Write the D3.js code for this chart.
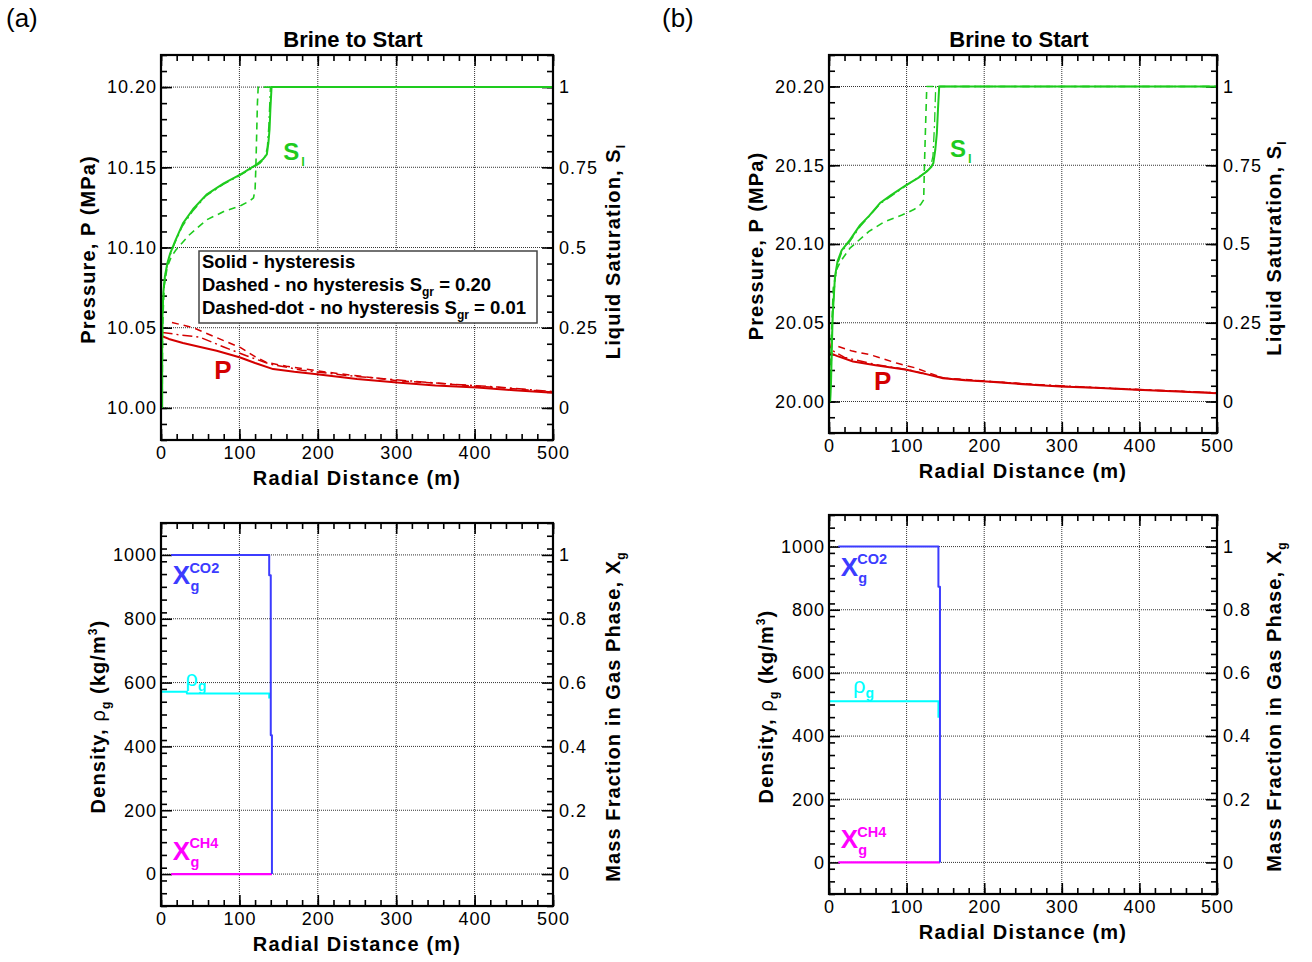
<!DOCTYPE html>
<html><head><meta charset="utf-8">
<script src="https://cdn.jsdelivr.net/npm/d3@7"></script>
<style>
body{margin:0;background:#fff}
text{font-family:"Liberation Sans",Arial,sans-serif;}
.tick text{font-family:"Liberation Sans",Arial,sans-serif;font-size:18px;letter-spacing:1px;fill:#000}
</style>
</head><body>
<svg id="c" width="1312" height="962" xmlns="http://www.w3.org/2000/svg"></svg>
<script>
// ---------------- DATA ----------------
const xTicks = [0, 100, 200, 300, 400, 500];
const pTicksA = [10.00, 10.05, 10.10, 10.15, 10.20];
const pTicksB = [20.00, 20.05, 20.10, 20.15, 20.20];
const slTicks = [0, 0.25, 0.5, 0.75, 1];
const rhoTicks = [0, 200, 400, 600, 800, 1000];
const xgTicks = [0, 0.2, 0.4, 0.6, 0.8, 1];
const legendLines = ["Solid - hysteresis", "Dashed - no hysteresis S", "Dashed-dot - no hysteresis S"];
const legendValues = ["", " = 0.20", " = 0.01"];

// Panel (a) top: liquid saturation [x m, Sl]
const aSlSolid = [[1.5,0],[1.5,0.2],[2,0.3],[3,0.36],[5,0.41],[8,0.45],[11.5,0.48],[18,0.52],[28,0.575],[41,0.62],[58,0.665],[80,0.70],[101,0.727],[115,0.748],[122,0.759],[130,0.775],[135,0.79],[137,0.826],[138.5,0.87],[139.5,0.93],[141,1.0],[500,1.0]];
const aSlDashed = [[1.5,0],[2,0.25],[4,0.38],[8,0.44],[13,0.47],[19,0.492],[36,0.539],[58,0.586],[80,0.612],[102,0.631],[113,0.645],[118,0.655],[120,0.68],[121,0.75],[122,0.85],[123,0.95],[124,1.0],[500,1.0]];
const aSlDashDot = [[1.5,0],[2,0.28],[3.5,0.37],[6,0.425],[10,0.465],[17,0.51],[27,0.565],[40,0.612],[57,0.66],[80,0.697],[101,0.725],[117,0.748],[126,0.762],[132,0.778],[135.5,0.81],[137.5,0.88],[139.5,1.0],[500,1.0]];
// Panel (a) top: pressure [x m, P MPa]
const aPSolid = [[0,10.045],[10,10.043],[28,10.0405],[50,10.038],[71,10.0356],[90,10.033],[101,10.0314],[120,10.028],[143,10.0242],[170,10.0225],[199,10.021],[250,10.018],[301,10.0158],[350,10.014],[403,10.0127],[450,10.011],[500,10.0095]];
const aPDashed = [[14,10.0533],[41,10.050],[70,10.044],[101,10.0377],[120,10.032],[135,10.0283],[160,10.026],[199,10.0231],[250,10.020],[301,10.017],[350,10.0155],[403,10.0135],[450,10.012],[500,10.0098]];
const aPDashDot = [[2,10.047],[25,10.0455],[50,10.044],[80,10.038],[109,10.0325],[139,10.0273],[180,10.0235],[241,10.020],[300,10.0175],[369,10.0148],[430,10.013],[500,10.0102]];

// Panel (b) top
const bSlSolid = [[1.5,0],[2.6,0.06],[4.7,0.27],[7.7,0.397],[11,0.445],[16.3,0.48],[27,0.513],[40,0.56],[52,0.59],[65.7,0.63],[80,0.655],[100,0.688],[115,0.71],[126,0.73],[132,0.745],[134.5,0.757],[137,0.8],[139,0.852],[140.5,0.93],[142,1.0],[500,1.0]];
const bSlDashed = [[1.5,0],[3,0.2],[5.5,0.36],[10,0.42],[15,0.445],[27,0.487],[51.5,0.54],[71,0.57],[94,0.592],[110,0.61],[118,0.625],[122,0.64],[123,0.75],[124.5,0.88],[126,1.0],[500,1.0]];
const bSlDashDot = [[1.5,0],[2.8,0.1],[4.8,0.28],[7.8,0.39],[11.5,0.44],[17,0.478],[28,0.512],[41,0.558],[66,0.628],[100,0.686],[124,0.727],[131,0.745],[134,0.78],[136,0.88],[137.5,1.0],[500,1.0]];
const bPSolid = [[0,20.031],[10,20.029],[31,20.0254],[60,20.023],[100,20.0201],[120,20.018],[147,20.0148],[175,20.0135],[203,20.0127],[250,20.011],[298,20.0095],[350,20.0085],[396,20.0074],[450,20.0063],[500,20.0053]];
const bPDashed = [[12,20.0349],[30,20.032],[53,20.0297],[87,20.0244],[110,20.0215],[147,20.015],[203,20.0129],[298,20.0097],[396,20.0076],[500,20.0055]];
const bPDashDot = [[0,20.04],[2,20.033],[20,20.028],[60,20.0235],[100,20.0203],[150,20.0147],[250,20.0112],[350,20.0087],[500,20.0055]];

// Bottom panels: mass fraction [x, Xg] and density [x, kg/m3]
const aXgCO2 = [[13,1],[138,1],[138,0.936],[140,0.936],[140,0.435],[141.5,0.435],[141.5,0]];
const aXgCH4 = [[13,0],[141.5,0]];
const aRhoG = [[0,571],[33,571],[33,566],[138,566],[138,550]];
const bXgCO2 = [[12,1],[141,1],[141,0.873],[143,0.873],[143,0]];
const bXgCH4 = [[12,0],[143,0]];
const bRhoG = [[0,510],[141,510],[141,458]];

// ---------------- DRAW ----------------
const svg = d3.select("#c");
const GREEN = "#1ecb1e", RED = "#d40000", BLUE = "#3c3cff", CYAN = "#00ffff", MAG = "#ff00ff";

function panel(cfg) {
  const g = svg.append("g");
  const x = d3.scaleLinear().domain([0, 500]).range([cfg.l, cfg.r]);
  const yL = d3.scaleLinear().domain(cfg.yDom).range([cfg.b, cfg.t]);
  const yR = d3.scaleLinear().domain(cfg.yRDom).range([cfg.b, cfg.t]);
  const W = cfg.r - cfg.l, H = cfg.b - cfg.t;

  // grid
  const grid = g.append("g").attr("stroke", "#333").attr("stroke-width", 1).attr("stroke-dasharray", "1,1");
  xTicks.slice(1, -1).forEach(v => grid.append("line").attr("x1", x(v)).attr("x2", x(v)).attr("y1", cfg.t).attr("y2", cfg.b));
  cfg.yTicks.forEach(v => grid.append("line").attr("x1", cfg.l).attr("x2", cfg.r).attr("y1", yL(v)).attr("y2", yL(v)));

  // axes
  const styleAx = s => { s.select(".domain").remove(); s.selectAll(".tick line").attr("stroke", "#000").attr("stroke-width", 1.6); };
  const xMinor = d3.range(0, 501, 20);
  const yMinor = d3.range(cfg.yDom[0], cfg.yDom[1] + 1e-9, cfg.yMinorStep);
  g.append("g").attr("transform", `translate(0,${cfg.b})`).call(d3.axisBottom(x).tickValues(xMinor).tickSize(-6).tickFormat("")).call(styleAx);
  g.append("g").attr("transform", `translate(0,${cfg.t})`).call(d3.axisTop(x).tickValues(xMinor).tickSize(-6).tickFormat("")).call(styleAx);
  g.append("g").attr("transform", `translate(${cfg.l},0)`).call(d3.axisLeft(yL).tickValues(yMinor).tickSize(-6).tickFormat("")).call(styleAx);
  g.append("g").attr("transform", `translate(${cfg.r},0)`).call(d3.axisRight(yL).tickValues(yMinor).tickSize(-6).tickFormat("")).call(styleAx);

  g.append("g").attr("transform", `translate(0,${cfg.b})`).call(d3.axisBottom(x).tickValues(xTicks).tickSize(-11).tickPadding(6).tickFormat(d3.format("d"))).call(styleAx);
  g.append("g").attr("transform", `translate(0,${cfg.t})`).call(d3.axisTop(x).tickValues(xTicks).tickSize(-11).tickFormat("")).call(styleAx);
  g.append("g").attr("transform", `translate(${cfg.l},0)`).call(d3.axisLeft(yL).tickValues(cfg.yTicks).tickSize(-11).tickPadding(4).tickFormat(cfg.yFmt)).call(styleAx);
  g.append("g").attr("transform", `translate(${cfg.r},0)`).call(d3.axisRight(yR).tickValues(cfg.rTicks).tickSize(-11).tickPadding(6).tickFormat(d => String(d))).call(styleAx);
  g.selectAll(".tick text").attr("font-size", 18);

  // curves
  const lineL = d3.line().x(d => x(d[0])).y(d => yL(d[1]));
  const lineR = d3.line().x(d => x(d[0])).y(d => yR(d[1]));
  cfg.series.forEach(s => {
    g.append("path").datum(s.data).attr("d", s.axis === "R" ? lineR : lineL)
      .attr("fill", "none").attr("stroke", s.color).attr("stroke-width", s.w || 2)
      .attr("stroke-dasharray", s.dash || null).attr("stroke-linejoin", "round");
  });

  // frame
  g.append("rect").attr("x", cfg.l).attr("y", cfg.t).attr("width", W).attr("height", H)
    .attr("fill", "none").attr("stroke", "#000").attr("stroke-width", 2.2);

  // x axis title
  g.append("text").attr("x", (cfg.l + cfg.r) / 2).attr("y", cfg.b + 45).attr("text-anchor", "middle")
    .attr("font-size", 20).attr("font-weight", "bold").attr("letter-spacing", 1.2).text("Radial Distance (m)");
  return { g, x, yL, yR };
}

function vtitle(g, xPos, yPos, parts) {
  const t = g.append("text").attr("transform", `translate(${xPos},${yPos}) rotate(-90)`).attr("text-anchor", "middle")
    .attr("font-size", 20).attr("font-weight", "bold").attr("letter-spacing", 1.1);
  parts.forEach(p => {
    const ts = t.append("tspan").text(p.t);
    if (p.sub) ts.attr("font-size", 12).attr("dy", 5);
    if (p.sup) ts.attr("font-size", 12).attr("dy", -8);
    if (p.back) ts.attr("dy", p.back);
    if (p.normal) ts.attr("font-weight", "normal");
  });
}

function richLabel(g, xPos, yPos, color, main, sup, sub, size) {
  const t = g.append("text").attr("x", xPos).attr("y", yPos).attr("fill", color).attr("font-weight", "bold").attr("font-size", size);
  t.append("tspan").text(main);
  if (sup && sub) {
    const w = size * 0.64;
    g.append("text").attr("x", xPos + w).attr("y", yPos - size * 0.45).attr("fill", color).attr("font-weight", "bold").attr("font-size", 14.5).text(sup);
    g.append("text").attr("x", xPos + w + 1).attr("y", yPos + 7).attr("fill", color).attr("font-weight", "bold").attr("font-size", 14.5).text(sub);
  } else if (sub) {
    t.append("tspan").attr("font-size", 13).attr("dy", 6).attr("dx", 2).text(sub);
  }
}

const specs = [
  { key: "a", l: 161, r: 553, pTicks: pTicksA, pDom: [9.98, 10.22],
    Sl: [aSlSolid, aSlDashed, aSlDashDot], P: [aPSolid, aPDashed, aPDashDot],
    top: { t: 55, b: 440 }, bot: { t: 523, b: 906 },
    co2: aXgCO2, ch4: aXgCH4, rho: aRhoG },
  { key: "b", l: 829, r: 1217, pTicks: pTicksB, pDom: [19.98, 20.22],
    Sl: [bSlSolid, bSlDashed, bSlDashDot], P: [bPSolid, bPDashed, bPDashDot],
    top: { t: 55, b: 433 }, bot: { t: 515, b: 894 },
    co2: bXgCO2, ch4: bXgCH4, rho: bRhoG }
];

specs.forEach(s => {
  const dash = "7,5", dashdot = "10,4,2,4";
  const top = panel({ l: s.l, r: s.r, t: s.top.t, b: s.top.b, yDom: s.pDom, yRDom: [-0.1, 1.1],
    yTicks: s.pTicks, rTicks: slTicks, yFmt: d3.format(".2f"), yMinorStep: 0.01,
    series: [
      { data: s.P[2], color: RED, dash: dashdot, w: 1.5 },
      { data: s.P[1], color: RED, dash: dash, w: 1.5 },
      { data: s.P[0], color: RED, w: 2 },
      { data: s.Sl[2], axis: "R", color: GREEN, dash: dashdot, w: 1.3 },
      { data: s.Sl[1], axis: "R", color: GREEN, dash: dash, w: 1.6 },
      { data: s.Sl[0], axis: "R", color: GREEN, w: 2 }
    ] });
  const bot = panel({ l: s.l, r: s.r, t: s.bot.t, b: s.bot.b, yDom: [-100, 1100], yRDom: [-0.1, 1.1],
    yTicks: rhoTicks, rTicks: xgTicks, yFmt: d3.format("d"), yMinorStep: 40,
    series: [
      { data: s.rho, color: CYAN, w: 2 },
      { data: s.ch4, axis: "R", color: MAG, w: 2.2 },
      { data: s.co2, axis: "R", color: BLUE, w: 2 }
    ] });

  // title
  svg.append("text").attr("x", (s.l + s.r) / 2 - 4).attr("y", 47).attr("text-anchor", "middle")
    .attr("font-size", 22).attr("font-weight", "bold").text("Brine to Start");
  // (a)/(b)
  svg.append("text").attr("x", s.key === "a" ? 6 : 662).attr("y", 27)
    .attr("font-family", "'Liberation Serif','Times New Roman',serif").attr("font-size", 26).text(`(${s.key})`);

  // axis titles
  const lt = s.key === "a" ? 95 : 763, rt = s.key === "a" ? 620 : 1281;
  vtitle(svg, lt, (s.top.t + s.top.b) / 2 + 2, [{ t: "Pressure, P (MPa)" }]);
  vtitle(svg, rt, (s.top.t + s.top.b) / 2 + 4, [{ t: "Liquid Saturation, S" }, { t: "l", sub: true }]);
  vtitle(svg, lt + 10, (s.bot.t + s.bot.b) / 2 + 2, [{ t: "Density, " }, { t: "ρ", normal: true }, { t: "g", sub: true }, { t: " (kg/m", back: -5 }, { t: "3", sup: true }, { t: ")", back: 8 }]);
  vtitle(svg, rt, (s.bot.t + s.bot.b) / 2 + 2, [{ t: "Mass Fraction in Gas Phase, X" }, { t: "g", sub: true }]);

  // curve labels
  const sx = top.x;
  richLabel(svg, sx(156), s.key === "a" ? 160 : 157, GREEN, "S", null, "l", 24);
  svg.append("text").attr("x", sx(s.key === "a" ? 68 : 58)).attr("y", s.key === "a" ? 379 : 390)
    .attr("fill", RED).attr("font-weight", "bold").attr("font-size", 26).text("P");

  const bx = bot.x;
  richLabel(svg, bot.x(15), bot.yR(0.93) + 7, BLUE, "X", "CO2", "g", 26);
  richLabel(svg, bot.x(15), bot.yR(0.0) - 14, MAG, "X", "CH4", "g", 26);
  const rt2 = svg.append("text").attr("x", bx(31)).attr("y", bot.yL(s.key === "a" ? 590 : 535)).attr("fill", CYAN).attr("font-size", 22);
  rt2.append("tspan").text("ρ");
  rt2.append("tspan").attr("font-size", 14).attr("font-weight", "bold").attr("dy", 5).text("g");

  // legend (panel a only)
  if (s.key === "a") {
    const lg = svg.append("g");
    lg.append("rect").attr("x", 199).attr("y", 251).attr("width", 338).attr("height", 72)
      .attr("fill", "#fff").attr("stroke", "#444").attr("stroke-width", 1.5);
    const ys = [268, 291, 314];
    legendLines.forEach((txt, i) => {
      const t = lg.append("text").attr("x", 202).attr("y", ys[i]).attr("font-size", 18.5).attr("font-weight", "bold");
      t.append("tspan").text(txt);
      if (legendValues[i]) {
        t.append("tspan").attr("font-size", 12).attr("dy", 5).text("gr");
        t.append("tspan").attr("dy", -5).text(legendValues[i]);
      }
    });
  }
});
</script>
</body></html>
